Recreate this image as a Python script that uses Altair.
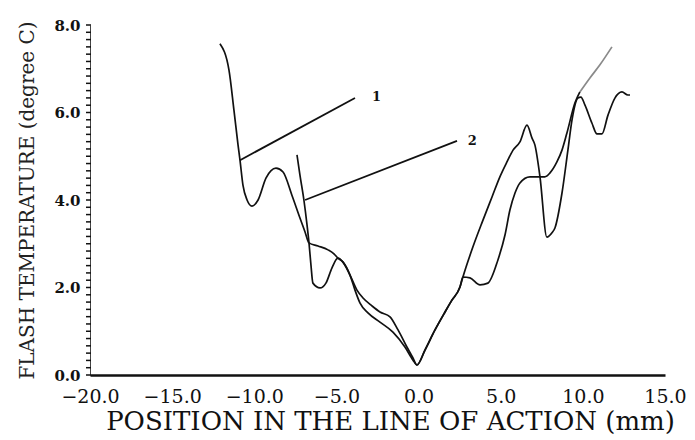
import altair as alt
import pandas as pd

# ---- data ----
c1_x = [-12.09, -11.54, -11.24, -10.99, -10.87, -10.69, -10.44, -10.14, -9.77, -9.29,
        -8.68, -8.25, -7.71, -7.22, -6.91, -6.67, -6.12, -5.51, -5.15, -4.91,
        -4.6, -4.18, -3.75, -3.38, -2.84, -2.35, -1.74, -1.25, -0.71, -0.34,
        -0.1, 0.39, 1.0, 1.61, 2.03, 2.52, 2.70, 3.13, 3.74, 4.22,
        4.83, 5.26, 5.56, 5.87, 6.17, 6.78, 7.69, 8.0, 8.42, 8.73,
        9.03, 9.52, 9.82]
c1_y = [7.57, 6.97, 6.06, 5.26, 4.91, 4.34, 4.0, 3.86, 4.0, 4.50,
        4.73, 4.64, 4.11, 3.59, 3.27, 3.02, 2.95, 2.86, 2.77, 2.67,
        2.58, 2.29, 1.94, 1.76, 1.58, 1.44, 1.33, 1.03, 0.64, 0.39,
        0.23, 0.57, 1.03, 1.44, 1.71, 2.01, 2.24, 2.22, 2.06, 2.10,
        2.63, 3.2, 3.77, 4.16, 4.39, 4.53, 4.53, 4.62, 4.87, 5.14,
        5.53, 6.22, 6.47]

c1_faint_x = [9.82, 10.43, 11.04, 11.77]
c1_faint_y = [6.47, 6.79, 7.09, 7.5]

c2_x = [-7.40, -7.22, -6.98, -6.79, -6.67, -6.55, -6.43, -6.0, -5.64, -5.27,
        -4.91, -4.6, -4.18, -3.87, -3.57, -3.08, -2.35, -1.56, -0.83, -0.34,
        -0.1, 0.39, 1.0, 1.61, 2.03, 2.52, 2.70, 3.31, 3.92, 4.47,
        4.95, 5.38, 5.75, 6.17, 6.60, 6.90, 7.08, 7.39, 7.81, 8.12,
        8.30, 8.73, 9.09, 9.34, 9.70, 9.88, 10.13, 10.55, 10.86, 11.16,
        11.53, 11.95, 12.38, 12.74, 12.87]
c2_y = [5.03, 4.57, 4.0, 3.43, 3.02, 2.51, 2.10, 1.99, 2.10, 2.45,
        2.67, 2.58, 2.29, 1.94, 1.65, 1.42, 1.21, 0.98, 0.64, 0.34,
        0.23, 0.57, 1.03, 1.44, 1.71, 2.01, 2.24, 2.93, 3.54, 4.07,
        4.53, 4.87, 5.14, 5.33, 5.71, 5.42, 5.26, 4.53, 3.15, 3.25,
        3.36, 4.16, 5.14, 5.83, 6.33, 6.35, 6.17, 5.76, 5.51, 5.51,
        5.94, 6.33, 6.47, 6.40, 6.40]

# curve labels with leader lines (data coordinates)
lab_text = ["1", "2"]
lead_x1 = [-10.87, -6.91]
lead_y1 = [4.91, 4.0]
lead_x2 = [-3.87, 2.34]
lead_y2 = [6.33, 5.35]
lab_x = [-2.84, 3.0]
lab_y = [6.35, 5.35]

x_ticks = [-20.0, -15.0, -10.0, -5.0, 0.0, 5.0, 10.0, 15.0]
y_ticks = [0.0, 2.0, 4.0, 6.0, 8.0]
y_minor = [round(i / 6, 4) for i in range(49)]

FONT = "DejaVu Serif"

rows = []
for name, xs, ys in [("1", c1_x, c1_y), ("1f", c1_faint_x, c1_faint_y), ("2", c2_x, c2_y)]:
    for i, (a, b) in enumerate(zip(xs, ys)):
        rows.append({"series": name, "order": i, "x": a, "y": b})
df = pd.DataFrame(rows)

lead = pd.DataFrame({"x": lead_x1, "y": lead_y1, "x2": lead_x2, "y2": lead_y2})
labs = pd.DataFrame({"x": lab_x, "y": lab_y, "t": lab_text})
minor = pd.DataFrame({"y": y_minor})

xscale = alt.Scale(domain=[-20, 15], nice=False, zero=False)
yscale = alt.Scale(domain=[0, 8], nice=False)

xaxis = alt.Axis(values=x_ticks, format=".1f", title="POSITION IN THE LINE OF ACTION (mm)",
                 grid=False, tickSize=0, domainWidth=2.5, domainColor="#111",
                 labelFont=FONT, labelFontSize=19, labelColor="#111", labelPadding=12,
                 titleFont=FONT, titleFontSize=26, titleFontWeight="normal", titleColor="#111",
                 titlePadding=2, titleX=300, labelFlush=False)
yaxis = alt.Axis(values=y_ticks, format=".1f",
                 title="FLASH TEMPERATURE (degree C)", grid=False, tickSize=0,
                 domainWidth=1, domainColor="#444", labelOverlap=False,
                 labelFont=FONT, labelFontSize=15, labelFontWeight="bold", labelColor="#111",
                 labelPadding=10, labelFlush=False,
                 titleFont=FONT, titleFontSize=20, titleFontWeight="normal", titleColor="#222",
                 titlePadding=16)

base = alt.Chart(df)
lines = base.transform_filter(alt.datum.series != "1f").mark_line(
    color="#111", strokeWidth=1.7, interpolate="monotone").encode(
    x=alt.X("x:Q", scale=xscale, axis=xaxis),
    y=alt.Y("y:Q", scale=yscale, axis=yaxis),
    detail="series:N", order="order:Q")
faint = base.transform_filter(alt.datum.series == "1f").mark_line(
    color="#8a8a8a", strokeWidth=1.7, interpolate="monotone").encode(
    x="x:Q", y="y:Q", order="order:Q")

ticks = alt.Chart(minor).mark_rule(color="#111", strokeWidth=1.5).encode(
    y=alt.Y("y:Q", scale=yscale), x=alt.value(-4), x2=alt.value(1))

leaders = alt.Chart(lead).mark_rule(color="#111", strokeWidth=1.8).encode(
    x="x:Q", y="y:Q", x2="x2:Q", y2="y2:Q")
texts = alt.Chart(labs).mark_text(font=FONT, fontSize=13, fontWeight="bold", color="#111",
                                  align="left").encode(
    x="x:Q", y="y:Q", text="t:N")

chart = alt.layer(lines, faint, ticks, leaders, texts).properties(
    width=575, height=350,
    autosize=alt.AutoSizeParams(type="none"),
    padding={"left": 82, "top": 17, "right": 22, "bottom": 65},
    background="white",
).configure_view(stroke=None)

chart.save("out.html", embed_options={"renderer": "svg", "actions": False})
